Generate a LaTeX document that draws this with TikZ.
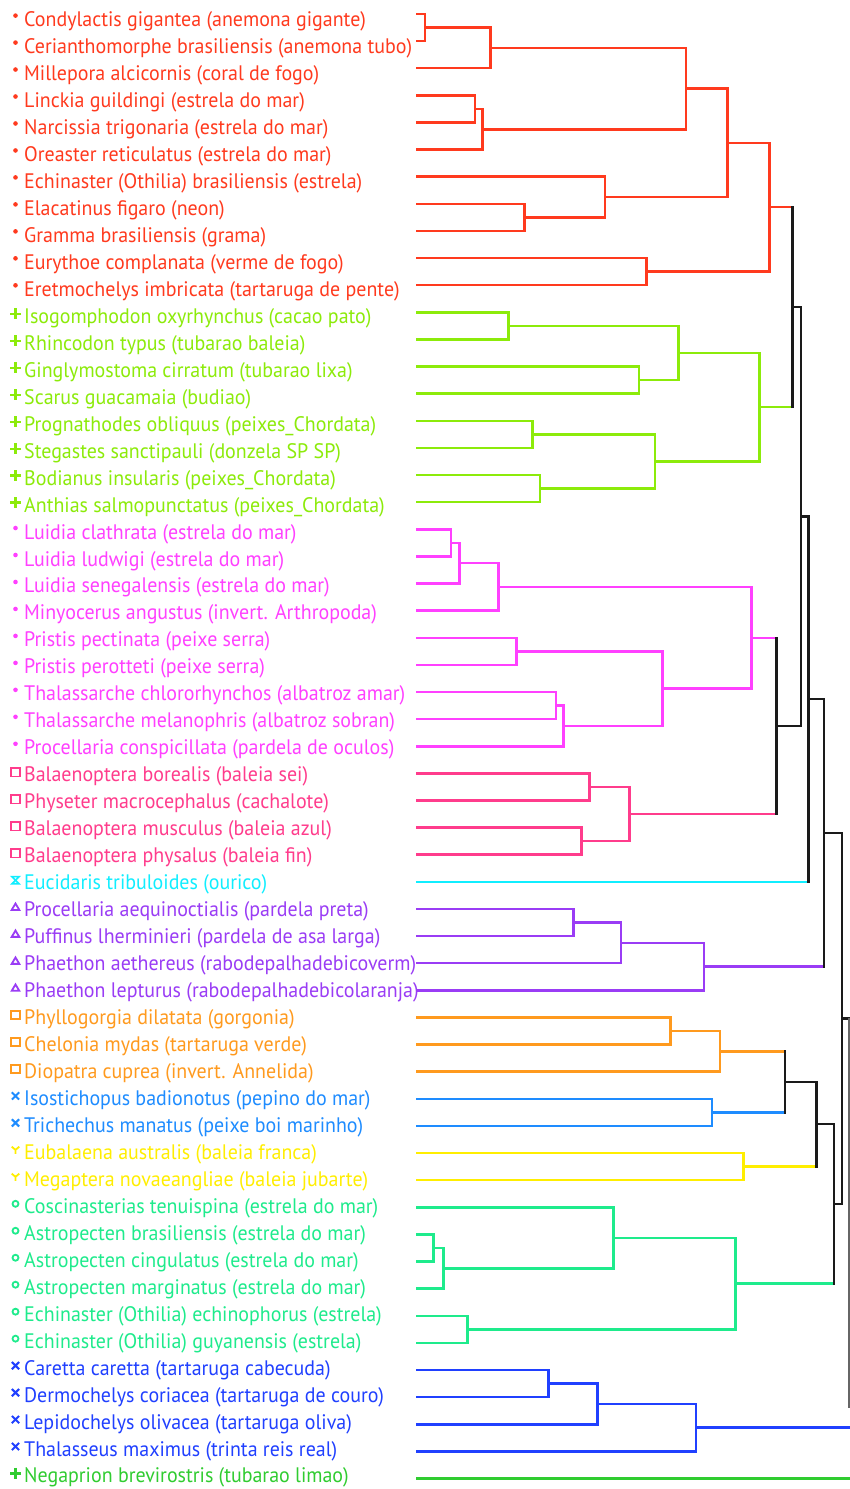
\documentclass[tikz,border=0pt]{standalone}
\usepackage{fontspec}
\setmainfont{PT Sans}[FakeStretch=0.95]
\usetikzlibrary{calc}
\definecolor{cred}{HTML}{FF3A1E}
\definecolor{clime}{HTML}{8CEB0A}
\definecolor{cmag}{HTML}{FF40FF}
\definecolor{cpink}{HTML}{FF3C8C}
\definecolor{ccyan}{HTML}{10EEFF}
\definecolor{cpurp}{HTML}{9A3CF5}
\definecolor{corng}{HTML}{FF9A1E}
\definecolor{clblue}{HTML}{1E8CFF}
\definecolor{cyell}{HTML}{FFEE00}
\definecolor{cteal}{HTML}{1EEB8C}
\definecolor{cblue}{HTML}{2040FF}
\definecolor{cgreen}{HTML}{30CC30}
\definecolor{cblk}{HTML}{1A1A1A}
\tikzset{
  br/.style={line width=2.5pt,line cap=rect},
  lbl/.style={anchor=base west,inner sep=0pt,font=\fontsize{21}{21}\selectfont}
}
% markers
\newcommand\mkdot[2]{\fill[#1] #2 ++(0,-1.5) circle (2.3);}
\newcommand\mkplus[2]{\draw[#1,line width=2.2pt] #2 ++(-5.5,0) -- ++(11,0) #2 ++(0,-5.5) -- ++(0,11);}
\newcommand\mksq[2]{\draw[#1,line width=1.8pt] #2 ++(-4.3,-4.3) rectangle ++(8.6,8.6);}
\newcommand\mktri[2]{\draw[#1,line width=1.8pt] #2 ++(-3.8,2.8) -- ++(7.6,0) -- ++(-3.8,-6.4) -- cycle;}
\newcommand\mkx[2]{\draw[#1,line width=2pt] #2 ++(-3.6,-3.6) -- ++(7.2,7.2) #2 ++(-3.6,3.6) -- ++(7.2,-7.2);}
\newcommand\mkcirc[2]{\draw[#1,line width=1.8pt] #2 circle (3);}
\newcommand\mky[2]{\draw[#1,line width=1.8pt] #2 ++(-3.8,-3.2) -- ++(3.8,3.2) -- ++(3.8,-3.2) #2 -- ++(0,4);}
\newcommand\mkhour[2]{\draw[#1,line width=1.6pt] #2 ++(-3.6,-3.6) -- ++(7.2,0) -- ++(-7.2,7.2) -- ++(7.2,0) -- cycle;}
% leaf: index, colour, marker, text
\newcommand\dgleaf[4]{%
  \pgfmathsetmacro\ly{14+27.12*(#1-1)}%
  \pgfmathsetmacro\ty{26.6+26.97*(#1-1)}%
  \coordinate (l#1) at (417,\ly);
  \node[lbl,text=#2] (t#1) at (24,\ty) {#4};
  \csname mk#3\endcsname{#2}{(15.5,\ty-9.5)}%
}
% internal node: name, x, child a, child b, node colour, a colour, b colour
\newcommand\dgnode[7]{%
  \coordinate (#1m) at ($(#3)!0.5!(#4)$);
  \coordinate (#1) at (#2,0 |- #1m);
  \draw[br,#6] (#3) -- (#3 -| #1);
  \draw[br,#7] (#4) -- (#4 -| #1);
  \draw[br,#5] (#3 -| #1) -- (#4 -| #1);
}
\begin{document}
\begin{tikzpicture}[x=1pt,y=-1pt]
\useasboundingbox (0,0) rectangle (850,1489);
\fill[white] (0,0) rectangle (850,1489);
\dgleaf{1}{cred}{dot}{Condylactis gigantea (anemona gigante)}
\dgleaf{2}{cred}{dot}{Cerianthomorphe brasiliensis (anemona tubo)}
\dgleaf{3}{cred}{dot}{Millepora alcicornis (coral de fogo)}
\dgleaf{4}{cred}{dot}{Linckia guildingi (estrela do mar)}
\dgleaf{5}{cred}{dot}{Narcissia trigonaria (estrela do mar)}
\dgleaf{6}{cred}{dot}{Oreaster reticulatus (estrela do mar)}
\dgleaf{7}{cred}{dot}{Echinaster (Othilia) brasiliensis (estrela)}
\dgleaf{8}{cred}{dot}{Elacatinus figaro (neon)}
\dgleaf{9}{cred}{dot}{Gramma brasiliensis (grama)}
\dgleaf{10}{cred}{dot}{Eurythoe complanata (verme de fogo)}
\dgleaf{11}{cred}{dot}{Eretmochelys imbricata (tartaruga de pente)}
\dgleaf{12}{clime}{plus}{Isogomphodon oxyrhynchus (cacao pato)}
\dgleaf{13}{clime}{plus}{Rhincodon typus (tubarao baleia)}
\dgleaf{14}{clime}{plus}{Ginglymostoma cirratum (tubarao lixa)}
\dgleaf{15}{clime}{plus}{Scarus guacamaia (budiao)}
\dgleaf{16}{clime}{plus}{Prognathodes obliquus (peixes\_Chordata)}
\dgleaf{17}{clime}{plus}{Stegastes sanctipauli (donzela SP SP)}
\dgleaf{18}{clime}{plus}{Bodianus insularis (peixes\_Chordata)}
\dgleaf{19}{clime}{plus}{Anthias salmopunctatus (peixes\_Chordata)}
\dgleaf{20}{cmag}{dot}{Luidia clathrata (estrela do mar)}
\dgleaf{21}{cmag}{dot}{Luidia ludwigi (estrela do mar)}
\dgleaf{22}{cmag}{dot}{Luidia senegalensis (estrela do mar)}
\dgleaf{23}{cmag}{dot}{Minyocerus angustus (invert. Arthropoda)}
\dgleaf{24}{cmag}{dot}{Pristis pectinata (peixe serra)}
\dgleaf{25}{cmag}{dot}{Pristis perotteti (peixe serra)}
\dgleaf{26}{cmag}{dot}{Thalassarche chlororhynchos (albatroz amar)}
\dgleaf{27}{cmag}{dot}{Thalassarche melanophris (albatroz sobran)}
\dgleaf{28}{cmag}{dot}{Procellaria conspicillata (pardela de oculos)}
\dgleaf{29}{cpink}{sq}{Balaenoptera borealis (baleia sei)}
\dgleaf{30}{cpink}{sq}{Physeter macrocephalus (cachalote)}
\dgleaf{31}{cpink}{sq}{Balaenoptera musculus (baleia azul)}
\dgleaf{32}{cpink}{sq}{Balaenoptera physalus (baleia fin)}
\dgleaf{33}{ccyan}{hour}{Eucidaris tribuloides (ourico)}
\dgleaf{34}{cpurp}{tri}{Procellaria aequinoctialis (pardela preta)}
\dgleaf{35}{cpurp}{tri}{Puffinus lherminieri (pardela de asa larga)}
\dgleaf{36}{cpurp}{tri}{Phaethon aethereus (rabodepalhadebicoverm)}
\dgleaf{37}{cpurp}{tri}{Phaethon lepturus (rabodepalhadebicolaranja)}
\dgleaf{38}{corng}{sq}{Phyllogorgia dilatata (gorgonia)}
\dgleaf{39}{corng}{sq}{Chelonia mydas (tartaruga verde)}
\dgleaf{40}{corng}{sq}{Diopatra cuprea (invert. Annelida)}
\dgleaf{41}{clblue}{x}{Isostichopus badionotus (pepino do mar)}
\dgleaf{42}{clblue}{x}{Trichechus manatus (peixe boi marinho)}
\dgleaf{43}{cyell}{y}{Eubalaena australis (baleia franca)}
\dgleaf{44}{cyell}{y}{Megaptera novaeangliae (baleia jubarte)}
\dgleaf{45}{cteal}{circ}{Coscinasterias tenuispina (estrela do mar)}
\dgleaf{46}{cteal}{circ}{Astropecten brasiliensis (estrela do mar)}
\dgleaf{47}{cteal}{circ}{Astropecten cingulatus (estrela do mar)}
\dgleaf{48}{cteal}{circ}{Astropecten marginatus (estrela do mar)}
\dgleaf{49}{cteal}{circ}{Echinaster (Othilia) echinophorus (estrela)}
\dgleaf{50}{cteal}{circ}{Echinaster (Othilia) guyanensis (estrela)}
\dgleaf{51}{cblue}{x}{Caretta caretta (tartaruga cabecuda)}
\dgleaf{52}{cblue}{x}{Dermochelys coriacea (tartaruga de couro)}
\dgleaf{53}{cblue}{x}{Lepidochelys olivacea (tartaruga oliva)}
\dgleaf{54}{cblue}{x}{Thalasseus maximus (trinta reis real)}
\dgleaf{55}{cgreen}{plus}{Negaprion brevirostris (tubarao limao)}
% red cluster
\dgnode{A}{425}{l1}{l2}{cred}{cred}{cred}
\dgnode{B}{490.7}{A}{l3}{cred}{cred}{cred}
\dgnode{C}{475}{l4}{l5}{cred}{cred}{cred}
\dgnode{D}{482.7}{C}{l6}{cred}{cred}{cred}
\dgnode{E}{686}{B}{D}{cred}{cred}{cred}
\dgnode{F}{524.3}{l8}{l9}{cred}{cred}{cred}
\dgnode{G}{605}{l7}{F}{cred}{cred}{cred}
\dgnode{H}{727.7}{E}{G}{cred}{cred}{cred}
\dgnode{I}{646.7}{l10}{l11}{cred}{cred}{cred}
\dgnode{J}{769.3}{H}{I}{cred}{cred}{cred}
% lime cluster
\dgnode{g1}{508.7}{l12}{l13}{clime}{clime}{clime}
\dgnode{g2}{639}{l14}{l15}{clime}{clime}{clime}
\dgnode{g3}{678.3}{g1}{g2}{clime}{clime}{clime}
\dgnode{g4}{532.3}{l16}{l17}{clime}{clime}{clime}
\dgnode{g5}{540}{l18}{l19}{clime}{clime}{clime}
\dgnode{g6}{655}{g4}{g5}{clime}{clime}{clime}
\dgnode{g7}{759.3}{g3}{g6}{clime}{clime}{clime}
\dgnode{K}{792.5}{J}{g7}{cblk}{cred}{clime}
% magenta cluster
\dgnode{m1}{451}{l20}{l21}{cmag}{cmag}{cmag}
\dgnode{m2}{459.3}{m1}{l22}{cmag}{cmag}{cmag}
\dgnode{m3}{498.7}{m2}{l23}{cmag}{cmag}{cmag}
\dgnode{m4}{516.7}{l24}{l25}{cmag}{cmag}{cmag}
\dgnode{m5}{556}{l26}{l27}{cmag}{cmag}{cmag}
\dgnode{m6}{563.7}{m5}{l28}{cmag}{cmag}{cmag}
\dgnode{m7}{662.7}{m4}{m6}{cmag}{cmag}{cmag}
\dgnode{m8}{751.7}{m3}{m7}{cmag}{cmag}{cmag}
% pink cluster
\dgnode{p1}{589.3}{l29}{l30}{cpink}{cpink}{cpink}
\dgnode{p2}{581.7}{l31}{l32}{cpink}{cpink}{cpink}
\dgnode{p3}{629.3}{p1}{p2}{cpink}{cpink}{cpink}
\dgnode{N}{776.7}{m8}{p3}{cblk}{cmag}{cpink}
\dgnode{L}{801}{K}{N}{cblk}{cblk}{cblk}
\dgnode{M}{808.5}{L}{l33}{cblk}{cblk}{ccyan}
% purple
\dgnode{u1}{573.3}{l34}{l35}{cpurp}{cpurp}{cpurp}
\dgnode{u2}{621}{u1}{l36}{cpurp}{cpurp}{cpurp}
\dgnode{u3}{704}{u2}{l37}{cpurp}{cpurp}{cpurp}
\dgnode{O}{824}{M}{u3}{cblk}{cblk}{cpurp}
% orange, light blue, yellow
\dgnode{o1}{670.5}{l38}{l39}{corng}{corng}{corng}
\dgnode{o2}{720}{o1}{l40}{corng}{corng}{corng}
\dgnode{c1}{712}{l41}{l42}{clblue}{clblue}{clblue}
\dgnode{S}{785}{o2}{c1}{cblk}{corng}{clblue}
\dgnode{y1}{743.3}{l43}{l44}{cyell}{cyell}{cyell}
\dgnode{T}{816.5}{S}{y1}{cblk}{cblk}{cyell}
% teal
\dgnode{t1}{433.3}{l46}{l47}{cteal}{cteal}{cteal}
\dgnode{t2}{443.3}{t1}{l48}{cteal}{cteal}{cteal}
\dgnode{t3}{613.3}{l45}{t2}{cteal}{cteal}{cteal}
\dgnode{t4}{467.3}{l49}{l50}{cteal}{cteal}{cteal}
\dgnode{t5}{735.7}{t3}{t4}{cteal}{cteal}{cteal}
\dgnode{R}{834.2}{T}{t5}{cblk}{cblk}{cteal}
\dgnode{P}{842}{O}{R}{cblk}{cblk}{cblk}
% blue
\dgnode{b1}{548.3}{l51}{l52}{cblue}{cblue}{cblue}
\dgnode{b2}{597.7}{b1}{l53}{cblue}{cblue}{cblue}
\dgnode{b3}{696}{b2}{l54}{cblue}{cblue}{cblue}
% top join, cut by the right edge
\coordinate (Q) at (849.3,0 |- P);
\coordinate (Qend) at (849.3,1408);
\coordinate (edge) at (850,0);
\draw[br,cblk] (P) -- (Q);
\draw[line width=2.5pt,black!60] (Q) -- (Qend);
\draw[br,cblue] (b3) -- (b3 -| edge);
\draw[br,cgreen] (l55) -- (l55 -| edge);
\end{tikzpicture}
\end{document}
